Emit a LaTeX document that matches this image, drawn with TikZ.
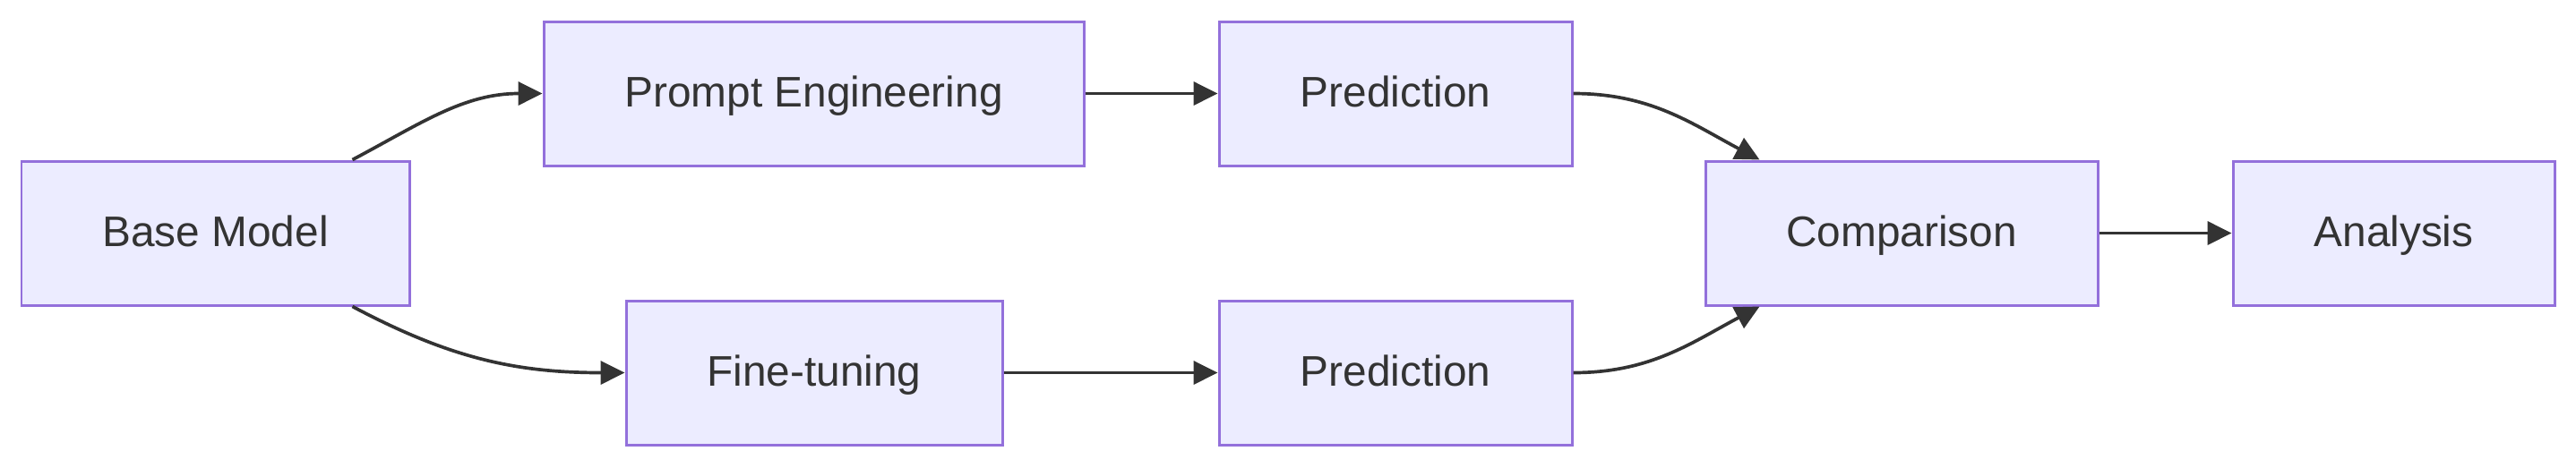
\documentclass[tikz,border=0pt]{standalone}
\usepackage{fontspec}
\setmainfont{Liberation Sans}
\usetikzlibrary{arrows.meta}
\definecolor{boxfill}{HTML}{ECECFF}
\definecolor{boxline}{HTML}{9370DB}
\definecolor{edgeline}{HTML}{333333}
\tikzset{
  stage/.style = {draw = boxline, fill = boxfill, line width = .85pt, inner sep = 0pt,
    minimum height = 1.61cm, text = edgeline, text height = .88em, text depth = 0pt,
    font = \fontsize{13.6}{16}\selectfont},
  flow/.style = {draw = edgeline, line width = 1.05pt, -{Triangle[length = .27cm, width = .26cm]}}
}
\begin{document}
\begin{tikzpicture}
  \useasboundingbox (0, 0) rectangle (28.76, -5.22);
  \def\midrow{-2.605}
  \def\toprow{-1.045}
  \def\botrow{-4.165}
  \node[stage, minimum width = 4.33cm] (base) at (2.405, \midrow) {Base Model};
  \node[stage, minimum width = 6.03cm] (prompt) at (9.085, \toprow) {Prompt Engineering};
  \node[stage, minimum width = 4.20cm] (finetune) at (9.09, \botrow) {Fine-tuning};
  \node[stage, minimum width = 3.94cm] (predtop) at (15.58, \toprow) {Prediction};
  \node[stage, minimum width = 3.94cm] (predbot) at (15.58, \botrow) {Prediction};
  \node[stage, minimum width = 4.38cm] (compare) at (21.23, \midrow) {Comparison};
  \node[stage, minimum width = 3.59cm] (analysis) at (26.725, \midrow) {Analysis};
  \draw[flow] ([xshift = -.65cm]base.north east) to[out = 28, in = 180] (prompt.west);
  \draw[flow] ([xshift = -.65cm]base.south east) to[out = -28, in = 180] (finetune.west);
  \draw[flow] (prompt) -- (predtop);
  \draw[flow] (finetune) -- (predbot);
  \draw[flow] (predtop.east) to[out = 0, in = 152] ([xshift = .62cm]compare.north west);
  \draw[flow] (predbot.east) to[out = 0, in = -152] ([xshift = .62cm]compare.south west);
  \draw[flow] (compare) -- (analysis);
\end{tikzpicture}
\end{document}
